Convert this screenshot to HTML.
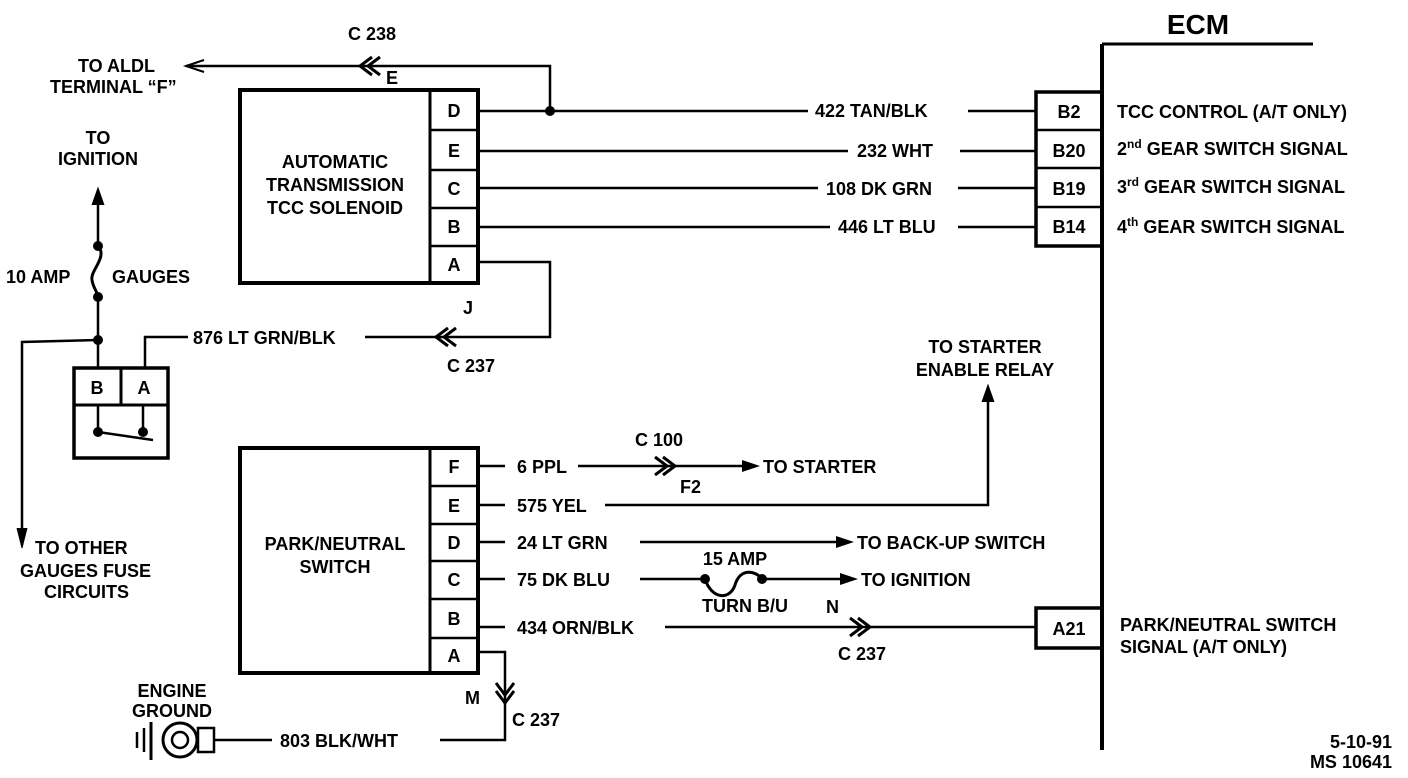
<!DOCTYPE html>
<html><head><meta charset="utf-8"><style>
html,body{margin:0;padding:0;background:#fff;width:1408px;height:778px;overflow:hidden}
svg{display:block}
text{font-family:"Liberation Sans",sans-serif;font-weight:bold;font-size:18px;fill:#000}
</style></head><body>
<svg width="1408" height="778" viewBox="0 0 1408 778" xmlns="http://www.w3.org/2000/svg">
<g stroke="#000" fill="none" stroke-width="2.5">
<!-- ECM -->
<line x1="1102" y1="44" x2="1102" y2="750" stroke-width="4"/>
<line x1="1102" y1="44" x2="1313" y2="44" stroke-width="3"/>
<rect x="1036" y="92" width="66" height="154" stroke-width="3.5"/>
<line x1="1036" y1="130" x2="1102" y2="130"/><line x1="1036" y1="168" x2="1102" y2="168"/><line x1="1036" y1="207" x2="1102" y2="207"/>
<rect x="1036" y="608" width="66" height="40" stroke-width="3.5"/>
<!-- TCC box -->
<rect x="240" y="90" width="238" height="193" stroke-width="4"/>
<line x1="430" y1="90" x2="430" y2="283" stroke-width="3"/>
<line x1="430" y1="130" x2="478" y2="130"/><line x1="430" y1="170" x2="478" y2="170"/><line x1="430" y1="208" x2="478" y2="208"/><line x1="430" y1="246" x2="478" y2="246"/>
<!-- wires to ECM -->
<line x1="478" y1="111" x2="808" y2="111"/><line x1="968" y1="111" x2="1036" y2="111"/>
<line x1="478" y1="151" x2="848" y2="151"/><line x1="960" y1="151" x2="1036" y2="151"/>
<line x1="478" y1="188" x2="818" y2="188"/><line x1="958" y1="188" x2="1036" y2="188"/>
<line x1="478" y1="227" x2="830" y2="227"/><line x1="958" y1="227" x2="1036" y2="227"/>
<!-- D to ALDL -->
<polyline points="550,111 550,66 186,66"/>
<polyline points="204,60 186,66 204,72" stroke-width="2"/>
<polyline points="372,57 360,66 372,75" stroke-width="3"/><polyline points="380,57 368,66 380,75" stroke-width="3"/>
<!-- A wire -->
<polyline points="478,262 550,262 550,337 365,337"/>
<polyline points="448,328 436,337 448,346" stroke-width="3"/><polyline points="456,328 444,337 456,346" stroke-width="3"/>
<polyline points="188,337 145,337 145,368"/>
<!-- fuse 10 amp -->
<line x1="98" y1="190" x2="98" y2="245"/>
<polyline points="92,205 98,188 104,205" fill="#000" stroke-width="1"/>
<path d="M98,245 C108,258 90,270 92,280 C93,288 98,292 98,298" stroke-width="3"/>
<line x1="98" y1="298" x2="98" y2="368"/>
<polyline points="98,340 22,342 22,545"/>
<polyline points="17,528 22,548 27,528" fill="#000" stroke-width="1"/>
<!-- switch box -->
<rect x="74" y="368" width="94" height="90" stroke-width="3.5"/>
<line x1="74" y1="405" x2="168" y2="405" stroke-width="3"/><line x1="121" y1="368" x2="121" y2="405" stroke-width="3"/>
<line x1="98" y1="405" x2="98" y2="432"/><line x1="143" y1="405" x2="143" y2="432"/>
<line x1="98" y1="432" x2="153" y2="440"/>
<!-- PN box -->
<rect x="240" y="448" width="238" height="225" stroke-width="4"/>
<line x1="430" y1="448" x2="430" y2="673" stroke-width="3"/>
<line x1="430" y1="486" x2="478" y2="486"/><line x1="430" y1="524" x2="478" y2="524"/><line x1="430" y1="561" x2="478" y2="561"/><line x1="430" y1="599" x2="478" y2="599"/><line x1="430" y1="638" x2="478" y2="638"/>
<line x1="478" y1="466" x2="505" y2="466"/><line x1="478" y1="505" x2="505" y2="505"/><line x1="478" y1="542" x2="505" y2="542"/><line x1="478" y1="579" x2="505" y2="579"/><line x1="478" y1="627" x2="505" y2="627"/>
<!-- F -->
<line x1="578" y1="466" x2="742" y2="466"/>
<polyline points="655,457 667,466 655,475" stroke-width="3"/><polyline points="663,457 675,466 663,475" stroke-width="3"/>
<!-- E -->
<polyline points="605,505 988,505 988,390"/>
<polyline points="982,402 988,385 994,402" fill="#000" stroke-width="1"/>
<!-- D -->
<line x1="640" y1="542" x2="836" y2="542"/>
<!-- C -->
<line x1="640" y1="579" x2="705" y2="579"/>
<path d="M705,579 C712,600 730,600 735,585 C740,568 755,570 762,579" stroke-width="3"/>
<line x1="762" y1="579" x2="840" y2="579"/>
<!-- B -->
<line x1="665" y1="627" x2="1036" y2="627"/>
<polyline points="850,618 862,627 850,636" stroke-width="3"/><polyline points="858,618 870,627 858,636" stroke-width="3"/>
<!-- A -->
<polyline points="478,652 505,652 505,740 440,740"/>
<polyline points="496,683 505,695 514,683" stroke-width="3"/><polyline points="496,691 505,703 514,691" stroke-width="3"/>
<line x1="215" y1="740" x2="272" y2="740"/>
<!-- ground -->
<rect x="198" y="728" width="16" height="24"/>
<circle cx="180" cy="740" r="17" stroke-width="3"/>
<circle cx="180" cy="740" r="8" stroke-width="2.5"/>
<line x1="151" y1="722" x2="151" y2="760" stroke-width="3"/>
<line x1="144" y1="728" x2="144" y2="752"/><line x1="137" y1="732" x2="137" y2="748"/>
</g>
<g fill="#000">
<circle cx="550" cy="111" r="5"/>
<circle cx="98" cy="246" r="5"/><circle cx="98" cy="297" r="5"/><circle cx="98" cy="340" r="5"/>
<circle cx="98" cy="432" r="5"/><circle cx="143" cy="432" r="5"/>
<circle cx="705" cy="579" r="5"/><circle cx="762" cy="579" r="5"/>
<polygon points="742,460 760,466 742,472"/>
<polygon points="836,536 854,542 836,548"/>
<polygon points="840,573 858,579 840,585"/>
</g>
<text x="1198" y="34" style="font-size:28px" text-anchor="middle">ECM</text>
<g text-anchor="middle">
<text x="1069" y="118">B2</text><text x="1069" y="157">B20</text><text x="1069" y="195">B19</text><text x="1069" y="233">B14</text>
<text x="1069" y="635">A21</text>
<text x="454" y="117">D</text><text x="454" y="157">E</text><text x="454" y="195">C</text><text x="454" y="233">B</text><text x="454" y="271">A</text>
<text x="454" y="473">F</text><text x="454" y="512">E</text><text x="454" y="549">D</text><text x="454" y="586">C</text><text x="454" y="625">B</text><text x="454" y="662">A</text>
<text x="97" y="394">B</text><text x="144" y="394">A</text>
<text x="335" y="168">AUTOMATIC</text><text x="335" y="191">TRANSMISSION</text><text x="335" y="214">TCC SOLENOID</text>
<text x="335" y="550">PARK/NEUTRAL</text><text x="335" y="573">SWITCH</text>
<text x="98" y="144">TO</text><text x="98" y="165">IGNITION</text>
<text x="985" y="353">TO STARTER</text><text x="985" y="376">ENABLE RELAY</text>
<text x="172" y="697">ENGINE</text><text x="172" y="717">GROUND</text>
<text x="735" y="565">15 AMP</text><text x="745" y="612">TURN B/U</text>
</g>
<text x="1117" y="118">TCC CONTROL (A/T ONLY)</text>
<text x="1117" y="155">2<tspan font-size="12" dy="-7">nd</tspan><tspan dy="7"> GEAR SWITCH SIGNAL</tspan></text>
<text x="1117" y="193">3<tspan font-size="12" dy="-7">rd</tspan><tspan dy="7"> GEAR SWITCH SIGNAL</tspan></text>
<text x="1117" y="233">4<tspan font-size="12" dy="-7">th</tspan><tspan dy="7"> GEAR SWITCH SIGNAL</tspan></text>
<text x="1120" y="631">PARK/NEUTRAL SWITCH</text><text x="1120" y="653">SIGNAL (A/T ONLY)</text>
<text x="815" y="117">422 TAN/BLK</text><text x="857" y="157">232 WHT</text><text x="826" y="195">108 DK GRN</text><text x="838" y="233">446 LT BLU</text>
<text x="348" y="40">C 238</text><text x="386" y="84">E</text>
<text x="78" y="72">TO ALDL</text><text x="50" y="93">TERMINAL “F”</text>
<text x="6" y="283">10 AMP</text><text x="112" y="283">GAUGES</text>
<text x="193" y="344">876 LT GRN/BLK</text>
<text x="463" y="314">J</text><text x="447" y="372">C 237</text>
<text x="35" y="554">TO OTHER</text><text x="20" y="577">GAUGES FUSE</text><text x="44" y="598">CIRCUITS</text>
<text x="517" y="473">6 PPL</text><text x="635" y="446">C 100</text><text x="680" y="493">F2</text><text x="763" y="473">TO STARTER</text>
<text x="517" y="512">575 YEL</text>
<text x="517" y="549">24 LT GRN</text><text x="857" y="549">TO BACK-UP SWITCH</text>
<text x="517" y="586">75 DK BLU</text><text x="861" y="586">TO IGNITION</text>
<text x="517" y="634">434 ORN/BLK</text><text x="826" y="613">N</text><text x="838" y="660">C 237</text>
<text x="465" y="704">M</text><text x="512" y="726">C 237</text>
<text x="280" y="747">803 BLK/WHT</text>
<text x="1392" y="748" text-anchor="end">5-10-91</text><text x="1392" y="768" text-anchor="end">MS 10641</text>
</svg>
</body></html>
